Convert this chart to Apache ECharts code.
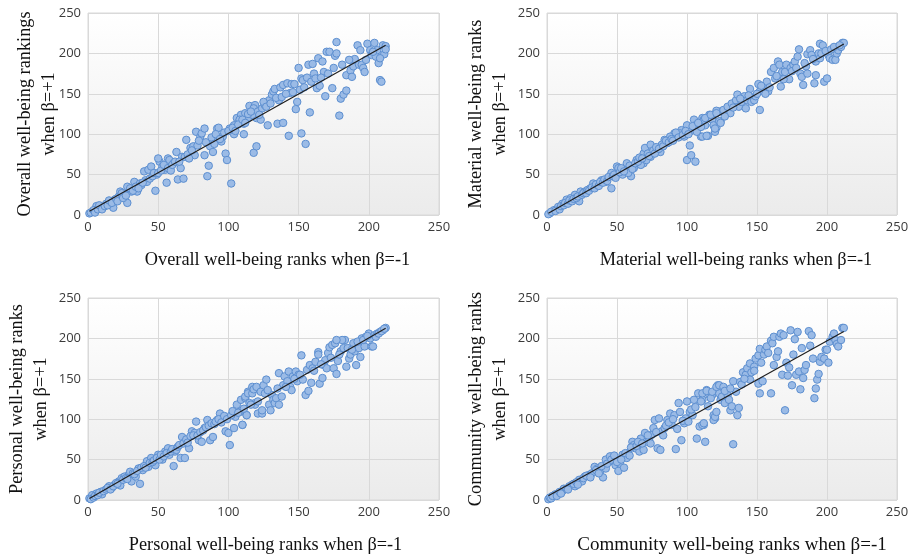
<!DOCTYPE html>
<html><head><meta charset="utf-8">
<script src="https://cdn.jsdelivr.net/npm/echarts@6/dist/echarts.min.js"></script>
<style>html,body{margin:0;padding:0;background:#fff}#c{width:915px;height:557px}</style>
</head><body><div id="c"></div>
<script>
const axisTicks = [0, 50, 100, 150, 200, 250];

const xTitles = [
  "Overall well-being ranks when β=-1",
  "Material well-being ranks when β=-1",
  "Personal well-being ranks when β=-1",
  "Community well-being ranks when β=-1"
];
const yTitles = [
  "Overall well-being rankings\nwhen β=+1",
  "Material well-being ranks\nwhen β=+1",
  "Personal well-being ranks\nwhen β=+1",
  "Community well-being ranks\nwhen β=+1"
];

const overall = [
[1,2],[3,4],[6,11],[9,8],[11,10],[13,14],[16,17],[19,19],[18,9],[22,23],[23,29],[26,25],[28,15],[29,33],[28,35],[31,29],[33,41],[35,29],[37,39],[38,37],[41,43],[42,41],[40,54],[43,56],[45,60],[48,30],[49,50],[51,66],[50,70],[57,70],[53,60],[56,40],[55,56],[58,68],[61,64],[63,78],[64,44],[66,58],[68,45],[67,72],[69,72],[70,93],[73,83],[75,85],[76,74],[77,103],[80,97],[83,74],[81,101],[83,107],[85,48],[86,61],[87,85],[89,78],[89,93],[92,107],[93,108],[95,91],[96,97],[98,76],[99,68],[101,107],[102,39],[104,111],[104,100],[106,120],[108,117],[109,124],[111,113],[113,120],[115,135],[119,136],[118,130],[120,120],
[108,118],[112,126],[114,120],[111,100],[118,132],[117,124],[118,77],[120,85],[121,128],[124,132],[126,136],[123,118],[128,111],[129,142],[131,149],[132,153],[133,156],[135,113],[136,142],[137,158],[139,114],[139,161],[142,163],[143,98],[144,151],[145,162],[147,162],[148,131],[149,140],[150,182],[151,155],[152,101],[152,169],[153,167],[155,88],[156,170],[157,186],[158,127],[159,165],[160,187],[161,175],[162,169],[163,157],[164,194],[165,160],[167,190],[168,177],[169,147],[170,202],[171,175],[172,202],[174,157],[176,197],[177,200],[177,214],[179,123],[180,144],[182,149],[184,154],[184,173],[187,179],[188,171],[189,184],[190,193],[192,210],[193,186],[194,204],[195,186],[196,182],[197,177],[199,212],[201,204],[202,198],[204,213],[205,196],[206,204],[207,188],[208,167],[209,165],[210,210],[211,199],[212,209],[208,194],
[2,3],[4,6],[5,3],[7,7],[8,12],[10,7],[12,11],[14,12],[15,18],[17,15],[20,20],[21,17],[24,27],[25,21],[27,24],[30,33],[32,30],[34,35],[36,33],[39,40],[44,45],[46,48],[47,52],[50,52],[52,55],[54,62],[57,58],[59,55],[60,62],[62,66],[65,66],[71,75],[72,70],[74,80],[78,86],[79,92],[84,90],[88,96],[90,88],[91,100],[94,94],[97,102],[100,104],[103,108],[105,104],[107,112],[110,118],[112,114],[114,125],[116,128],[122,124],[125,140],[127,134],[130,138],[134,145],[138,146],[141,150],[146,152],[154,158],[166,170],[175,182],[181,186],[186,192],[198,192],[203,202],[212,205]
];

const material = [
[46,33],[23,17],[54,50],[60,48],[69,64],[74,72],[81,78],[100,68],[102,86],[103,74],[106,66],[110,97],[115,98],[121,108],[119,111],[124,116],[123,128],
[69,76],[70,83],[74,87],[84,93],[91,101],[96,105],[100,111],[105,118],[111,120],[116,124],[121,129],
[2,2],[5,6],[8,10],[11,14],[14,19],[17,21],[20,25],[24,29],[27,29],[31,33],[33,39],[36,37],[39,43],[42,41],[46,52],[50,60],[51,58],[56,56],[57,64],[58,52],[62,58],[64,68],[67,62],[71,68],[75,78],[79,81],[82,87],[86,89],[88,97],[93,97],[95,101],[98,97],[102,103],[106,111],[107,103],[113,111],[118,118],[120,103],
[110,109],[111,97],[114,98],[112,118],[113,120],[117,124],[119,111],[120,107],[123,116],[124,114],[121,126],[126,130],[129,134],[131,126],[132,138],[135,142],[136,149],[137,134],[139,140],[141,147],[142,132],[143,142],[145,156],[146,140],[148,142],[149,147],[151,162],[152,130],[152,153],[155,157],[157,165],[158,153],[160,177],[162,182],[163,169],[165,190],[166,186],[167,159],[168,177],[170,177],[171,186],[173,168],[174,182],[176,186],[177,190],[179,196],[180,205],[181,175],[182,171],[183,161],[185,184],[186,175],[186,199],[188,204],[189,198],[191,163],[192,190],[192,173],[194,200],[195,212],[195,194],[197,210],[198,165],[200,169],[201,198],[202,194],[204,192],[206,192],[207,200],[208,204],[210,208],[211,213],[212,213],
[1,1],[3,4],[6,5],[9,7],[10,11],[12,12],[13,15],[15,14],[16,18],[18,17],[19,20],[21,21],[22,23],[25,25],[26,27],[28,27],[29,31],[30,30],[32,34],[34,33],[35,38],[37,36],[38,41],[40,40],[41,44],[43,42],[44,47],[47,48],[48,50],[49,46],[52,53],[53,58],[55,54],[59,61],[61,57],[63,64],[65,66],[66,71],[68,70],[72,76],[73,73],[76,80],[77,76],[78,84],[80,82],[83,85],[85,92],[87,90],[89,94],[90,92],[92,102],[94,96],[97,99],[99,104],[101,100],[104,110],[108,114],[127,122],[133,133],[138,144],[144,148],[150,150],[153,160],[156,150],[159,158],[164,172],[169,168],[175,178],[178,182],[184,188],[190,193],[196,200],[199,203],[203,205],[205,208],[209,210]
];

const personal = [
[1,2],[3,6],[6,8],[9,10],[10,7],[12,12],[15,17],[17,15],[19,19],[22,23],[24,27],[23,18],[26,29],[29,31],[30,35],[31,23],[34,29],[36,39],[37,20],[39,37],[42,48],[43,41],[45,52],[48,43],[50,56],[53,50],[55,60],[57,64],[58,56],[61,42],[62,60],[66,52],[69,52],[67,78],[69,72],[72,64],[74,85],[76,83],[77,97],[79,74],[81,72],[83,89],[85,99],[87,93],[87,74],[89,78],[92,99],[94,107],[96,101],[98,85],[100,83],[101,68],[104,89],[105,103],[106,118],[109,124],[110,93],[112,126],[113,105],[114,134],[117,140],[120,138],[119,120],[121,107],
[108,109],[110,93],[112,128],[113,105],[114,132],[115,120],[117,132],[118,137],[119,118],[120,140],[121,122],[123,134],[124,107],[124,111],[125,142],[127,149],[129,118],[130,111],[131,130],[132,124],[133,120],[134,126],[136,157],[136,118],[138,128],[139,142],[140,153],[142,147],[143,159],[144,140],[145,136],[146,153],[148,159],[149,147],[150,155],[152,179],[153,149],[155,130],[156,161],[157,135],[158,167],[159,145],[160,163],[162,171],[164,183],[165,144],[167,151],[168,167],[169,173],[170,163],[171,182],[172,189],[174,192],[175,163],[176,194],[177,156],[178,172],[180,184],[182,188],[183,198],[184,165],[186,175],[187,180],[189,194],[190,184],[191,167],[193,188],[194,177],[195,200],[197,190],[198,202],[200,206],[201,200],[202,190],[203,190],[204,204],[206,206],[208,208],[210,210],[212,213],[181,198],[177,198],[164,180],
[2,1],[4,3],[5,5],[7,6],[8,9],[11,11],[13,13],[14,15],[16,13],[18,17],[20,21],[21,20],[25,25],[27,27],[28,26],[32,33],[33,32],[35,36],[38,40],[40,42],[41,40],[44,46],[46,47],[47,49],[49,52],[51,50],[52,56],[54,54],[56,58],[59,60],[60,63],[63,62],[64,66],[65,68],[68,70],[70,75],[71,71],[73,79],[75,80],[78,80],[80,84],[82,86],[84,90],[86,92],[88,95],[90,94],[91,97],[93,100],[95,96],[97,104],[99,100],[102,105],[103,110],[107,108],[111,113],[116,118],[126,132],[128,136],[135,138],[141,140],[147,150],[151,155],[161,160],[166,168],[173,176],[179,180],[185,188],[188,186],[192,196],[196,198],[199,203],[205,202],[207,206],[209,209],[211,212]
];

const community = [
[1,1],[2,3],[6,7],[8,8],[11,11],[12,14],[16,17],[18,19],[20,17],[23,25],[25,23],[27,29],[30,31],[32,33],[34,41],[36,39],[38,35],[40,28],[42,39],[42,50],[45,54],[47,48],[49,43],[51,36],[52,45],[54,56],[55,40],[57,52],[58,58],[61,72],[62,68],[63,64],[66,60],[67,76],[69,62],[70,83],[71,72],[73,76],[75,81],[76,89],[77,99],[80,101],[79,64],[81,62],[82,85],[84,89],[86,99],[88,107],[89,93],[91,105],[92,63],[94,120],[95,109],[96,74],[98,95],[99,101],[100,122],[102,109],[104,105],[105,124],[107,76],[108,132],[109,91],[111,124],[112,93],[113,72],[114,136],[116,130],[118,130],[119,105],[120,101],[122,142],[123,132],
[110,122],[111,93],[112,95],[111,132],[114,135],[117,126],[118,134],[119,99],[120,103],[121,109],[121,140],[123,142],[124,124],[125,128],[126,140],[127,120],[129,130],[130,124],[131,111],[132,116],[133,69],[133,147],[135,134],[136,105],[137,114],[138,146],[139,143],[140,158],[142,155],[143,163],[145,169],[145,149],[146,158],[148,165],[149,175],[151,179],[151,144],[152,132],[152,187],[154,147],[155,180],[156,186],[157,190],[158,182],[160,132],[160,197],[161,194],[162,167],[162,202],[164,177],[165,184],[166,202],[167,206],[168,155],[169,204],[170,111],[171,170],[172,154],[173,164],[174,210],[175,142],[176,180],[177,199],[178,155],[179,208],[180,159],[181,137],[182,188],[183,151],[184,161],[185,167],[187,209],[188,191],[189,204],[190,175],[191,126],[192,138],[193,149],[194,156],[195,171],[196,177],[198,175],[199,186],[201,170],[200,186],[202,196],[204,202],[205,206],[206,198],[207,193],[208,190],[210,198],[211,213],[212,213],
[3,2],[4,5],[7,5],[9,10],[10,8],[14,14],[15,13],[19,20],[21,22],[22,19],[26,27],[28,30],[31,28],[35,37],[37,33],[39,42],[43,45],[46,50],[48,55],[50,47],[53,50],[56,58],[59,55],[60,65],[64,67],[65,72],[68,70],[72,80],[74,70],[78,84],[83,80],[85,92],[87,96],[90,100],[93,88],[97,98],[101,97],[103,112],[106,115],[115,116],[127,135],[131,138],[141,150],[148,160],[153,170]
];

const panels = [overall, material, personal, community];

function fitLine(d) {
  const n = d.length;
  let sx = 0, sy = 0, sxx = 0, sxy = 0, mn = Infinity, mx = -Infinity;
  d.forEach(p => { sx += p[0]; sy += p[1]; sxx += p[0]*p[0]; sxy += p[0]*p[1]; mn = Math.min(mn, p[0]); mx = Math.max(mx, p[0]); });
  const b = (n*sxy - sx*sy) / (n*sxx - sx*sx);
  const a = (sy - b*sx) / n;
  return [[mn, a + b*mn], [mx, a + b*mx]];
}

const gridPos = [
  {left: 88, top: 13, width: 351, height: 202},
  {left: 547, top: 13, width: 350, height: 202},
  {left: 88, top: 298, width: 351, height: 202},
  {left: 547, top: 298, width: 350, height: 202}
];
const yGaps = [26.5, 34.5, 34.5, 34.5];
const xTitleSize = [18.3, 18.3, 18.3, 19];
const xTitleShift = [28, 28, 4, 20];

const bg = new echarts.graphic.LinearGradient(0, 0, 0, 1, [
  {offset: 0, color: '#ffffff'}, {offset: 1, color: '#ebebeb'}
]);

const option = {
  animation: false,
  backgroundColor: '#ffffff',
  grid: gridPos.map(g => Object.assign({show: true, backgroundColor: bg, borderColor: '#d9d9d9', borderWidth: 1}, g)),
  xAxis: panels.map((_, i) => ({
    type: 'value', gridIndex: i, min: 0, max: 250, interval: 50,
    name: xTitles[i], nameLocation: 'middle', nameGap: 36, nameMoveOverlap: false,
    nameTextStyle: {fontFamily: 'Liberation Serif', fontSize: xTitleSize[i], color: '#111', padding: [0, 0, 0, xTitleShift[i]]},
    axisLine: {show: false}, axisTick: {show: false},
    axisLabel: {fontFamily: 'Open Sans', fontSize: 13, color: '#3a3a3a', margin: 6},
    splitLine: {show: true, lineStyle: {color: '#d9d9d9', width: 1}}
  })),
  yAxis: panels.map((_, i) => ({
    type: 'value', gridIndex: i, min: 0, max: 250, interval: 50,
    name: yTitles[i], nameLocation: 'middle', nameGap: yGaps[i], nameRotate: 90, nameMoveOverlap: false,
    nameTextStyle: {fontFamily: 'Liberation Serif', fontSize: 18.3, color: '#111', lineHeight: 24.5},
    axisLine: {show: false}, axisTick: {show: false},
    axisLabel: {fontFamily: 'Open Sans', fontSize: 13, color: '#3a3a3a', margin: 7},
    splitLine: {show: true, lineStyle: {color: '#d9d9d9', width: 1}}
  })),
  series: []
};

panels.forEach((d, i) => {
  option.series.push({
    type: 'scatter', xAxisIndex: i, yAxisIndex: i, data: d, symbolSize: 7.5,
    itemStyle: {color: '#9bbbe6', borderColor: '#5d8fd0', borderWidth: 1, opacity: 1}
  });
});
panels.forEach((d, i) => {
  option.series.push({
    type: 'line', xAxisIndex: i, yAxisIndex: i, data: fitLine(d), symbol: 'none', z: 5,
    lineStyle: {color: '#1e1e1e', width: 1.2}
  });
});

const chart = echarts.init(document.getElementById('c'), null, {renderer: 'canvas'});
chart.setOption(option);
</script>
</body></html>
